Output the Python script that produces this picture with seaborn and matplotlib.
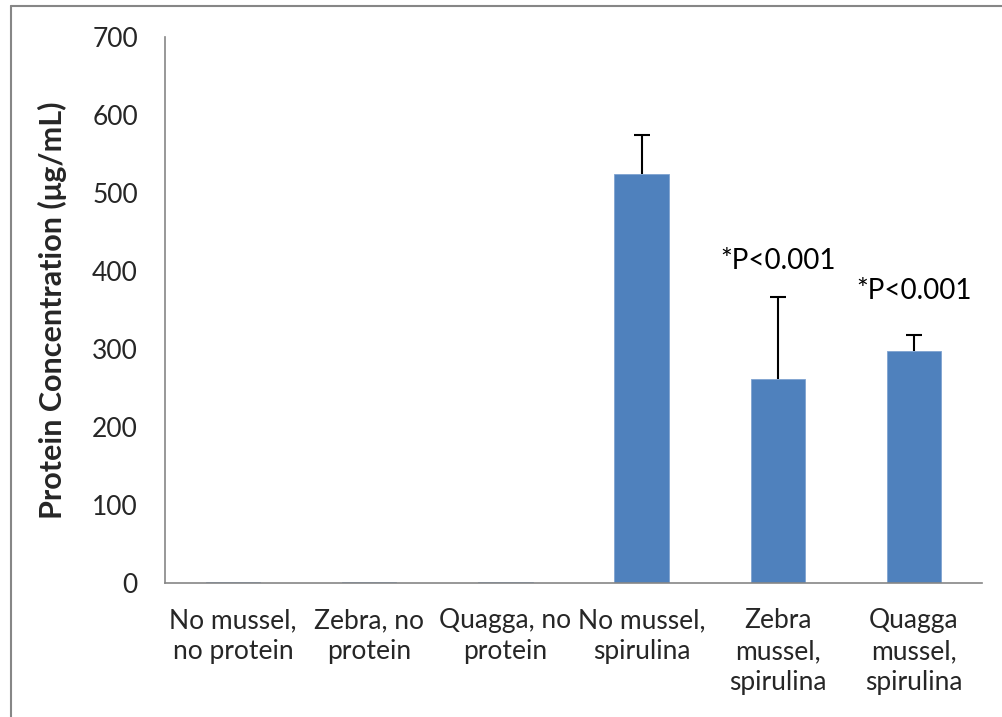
import matplotlib
matplotlib.use("Agg")
import matplotlib.pyplot as plt
from matplotlib.lines import Line2D
import seaborn as sns
import numpy as np

categories = ["No mussel,\nno protein", "Zebra, no\nprotein", "Quagga, no\nprotein",
              "No mussel,\nspirulina", "Zebra\nmussel,\nspirulina", "Quagga\nmussel,\nspirulina"]
values = [1.5, 1.5, 1.5, 525, 262, 298]
errors = [0, 0, 0, 50, 105, 20]
annotations = ["", "", "", "", "*P<0.001", "*P<0.001"]
annot_y = [0, 0, 0, 0, 413, 374]
yticks = [0, 100, 200, 300, 400, 500, 600, 700]

sns.set_style("white")
plt.rcParams['font.family'] = ['Lato', 'DejaVu Sans']

fig = plt.figure(figsize=(10.02, 7.17), dpi=100)
ax = fig.add_axes([165/1002, 1-583/717, (982-165)/1002, (583-37)/717])

sns.barplot(x=categories, y=values, color="#4F81BD", width=0.4, ax=ax,
            saturation=1, edgecolor="#7FA3D0", linewidth=0.6)

idx = [i for i, e in enumerate(errors) if e > 0]
xs = np.array(idx, dtype=float)
vs = np.array([values[i] for i in idx])
es = np.array([errors[i] for i in idx])
_, caps, _ = ax.errorbar(xs, vs, yerr=[np.zeros(len(es)), es], fmt="none",
                         ecolor="black", elinewidth=1.5, capsize=6, capthick=1.5)
caps[0].remove()

for i, (t, yy) in enumerate(zip(annotations, annot_y)):
    if t:
        ax.text(i, yy, t, ha="center", va="center", fontsize=20, color="black")

ax.set_ylim(0, 700)
ax.set_xlim(-0.5, len(values) - 0.5)
ax.set_yticks(yticks)
ax.set_yticklabels([str(v) for v in yticks], fontsize=19)
ax.set_xticks(np.arange(len(values) + 1) - 0.5, minor=False)
ax.set_xticklabels([""] * (len(values) + 1))
ax.set_xticks(np.arange(len(values)), minor=True)
ax.set_xticklabels(categories, minor=True, fontsize=19, linespacing=1.3, va="top")
ax.tick_params(axis="x", which="minor", length=0, pad=18)
ax.tick_params(axis="x", which="major", length=6, color="#868686", width=1.2, direction="out")
ax.tick_params(axis="y", length=4.5, color="#868686", width=1.2, direction="out", pad=15)
ax.grid(False)

for s in ["top", "right"]:
    ax.spines[s].set_visible(False)
for s in ["left", "bottom"]:
    ax.spines[s].set_color("#868686")
    ax.spines[s].set_linewidth(1.2)

ax.set_ylabel("Protein Concentration (μg/mL)", fontsize=22, fontweight="bold", labelpad=18)

fig.add_artist(Line2D([10.5/1002, 10.5/1002], [0, 1-6/717], color="#868686", lw=1.5))
fig.add_artist(Line2D([10.5/1002, 1], [1-6/717, 1-6/717], color="#868686", lw=1.5))

fig.savefig("out.png", dpi=100)
